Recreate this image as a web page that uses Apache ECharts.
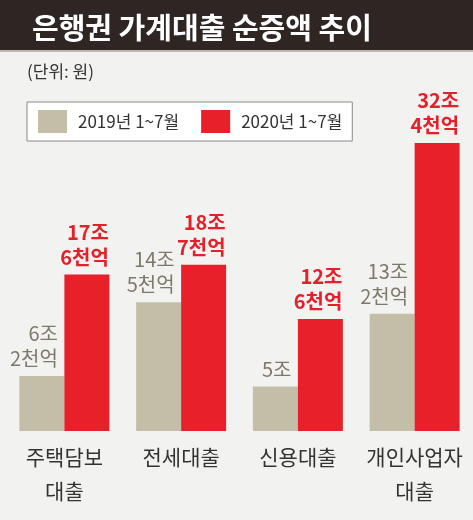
<!DOCTYPE html>
<html>
<head>
<meta charset="utf-8">
<script src="https://cdn.jsdelivr.net/npm/echarts@6/dist/echarts.min.js"></script>
<style>
  html, body { margin: 0; padding: 0; background: #f2f2f1; }
  #chart { width: 473px; height: 520px; }
</style>
</head>
<body>
<div id="chart"></div>
<script>
// 카테고리 / 값 (단위: 조원)
var categories = ["주택담보\n대출", "전세대출", "신용대출", "개인사업자\n대출"];
var y2019 = [6.2, 14.5, 5, 13.2];
var y2020 = [17.6, 18.7, 12.6, 32.4];
var seriesNames = ["2019년 1~7월", "2020년 1~7월"];

function joLabel(v) {
  var jo = Math.floor(v);
  var cheon = Math.round((v - jo) * 10);
  return cheon ? jo + "조\n" + cheon + "천억" : jo + "조";
}

var font = "'Noto Sans CJK KR', 'Noto Sans', sans-serif";
var myChart = echarts.init(document.getElementById("chart"));

var option = {
  backgroundColor: "#f2f2f1",
  animation: false,
  title: {
    text: "은행권 가계대출 순증액 추이",
    left: 27,
    top: 8,
    textStyle: { color: "#ffffff", fontSize: 29, fontWeight: "bold", fontFamily: font }
  },
  graphic: [
    { type: "rect", z: -1, shape: { x: 0, y: 0, width: 473, height: 50 }, style: { fill: "#2f2624" } },
    { type: "rect", z: -1, shape: { x: 0, y: 50, width: 473, height: 2 }, style: { fill: "#bdb8b2" } },
    {
      type: "text", left: 27, top: 63,
      style: { text: "(단위: 원)", fill: "#333", fontSize: 17, fontFamily: font }
    }
  ],
  legend: {
    data: seriesNames,
    left: 27,
    top: 102,
    padding: [8, 10, 8, 11],
    itemWidth: 29,
    itemHeight: 23,
    itemGap: 22,
    icon: "rect",
    backgroundColor: "#ffffff",
    borderColor: "#8a8a8a",
    borderWidth: 1,
    borderRadius: 0,
    textStyle: { color: "#333", fontSize: 17, fontFamily: font, padding: [0, 0, 0, 6] }
  },
  grid: { left: 6, right: 0, top: 120, bottom: 89 },
  xAxis: {
    type: "category",
    data: categories,
    axisLine: { show: false },
    axisTick: { show: false },
    axisLabel: { color: "#333", fontSize: 21, lineHeight: 34, margin: 9, fontFamily: font, interval: 0 }
  },
  yAxis: {
    type: "value",
    min: 0,
    max: 35,
    show: false,
    splitLine: { show: false }
  },
  series: [
    {
      name: seriesNames[0],
      type: "bar",
      data: y2019,
      barWidth: 45,
      barGap: "0%",
      itemStyle: { color: "#c4bea9" },
      label: {
        show: true,
        position: "top",
        align: "right",
        offset: [16, 0],
        distance: 5,
        color: "#7d796b",
        fontSize: 20,
        lineHeight: 25,
        fontFamily: font,
        formatter: function (p) { return joLabel(p.value); }
      }
    },
    {
      name: seriesNames[1],
      type: "bar",
      data: y2020,
      barWidth: 45,
      barGap: "0%",
      itemStyle: { color: "#e8202a" },
      label: {
        show: true,
        position: "top",
        align: "right",
        offset: [22, 0],
        distance: 5,
        color: "#e3212b",
        fontSize: 20,
        fontWeight: "bold",
        lineHeight: 25,
        fontFamily: font,
        formatter: function (p) { return joLabel(p.value); }
      }
    }
  ]
};

myChart.setOption(option);
window.addEventListener("resize", function () {
  myChart.resize();
});
</script>
</body>
</html>
